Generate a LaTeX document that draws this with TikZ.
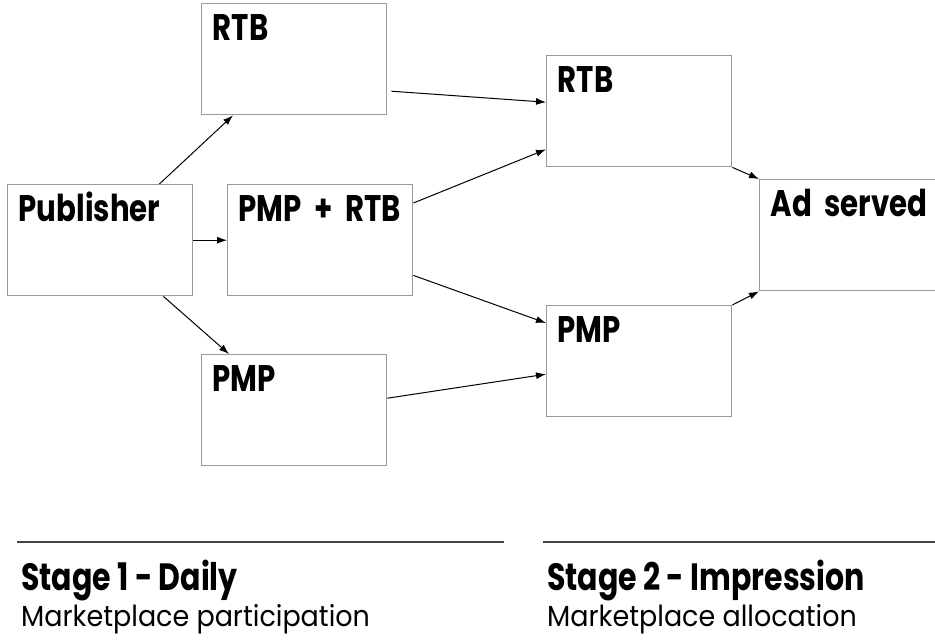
\documentclass[tikz,border=0pt]{standalone}
\usepackage{fontspec}
\setmainfont{Poppins}
\newfontfamily\labelfont[FakeStretch=0.79]{Poppins}
\newfontfamily\notefont[FakeStretch=0.93]{Poppins}
\usepackage{tikz}
\usetikzlibrary{arrows.meta,positioning,calc}
\definecolor{boxGray}{HTML}{9A9A9A}
\definecolor{ruleGray}{HTML}{444444}
\definecolor{inkBlack}{HTML}{000000}

\begin{document}
\begin{tikzpicture}[x=1pt,y=-1pt,>=Latex,
  market/.style={draw=boxGray,line width=1.4pt,anchor=north west,inner xsep=11pt,inner ysep=0pt,
    text width=163pt,align=left,text height=37pt,text depth=74pt,
    font=\labelfont\bfseries\fontsize{37}{40}\selectfont,text=inkBlack},
  flow/.style={-{Latex[length=10pt,width=7pt]},line width=1pt,draw=inkBlack},
  stage/.style={anchor=base west,inner sep=0pt,font=\labelfont\bfseries\fontsize{38}{40}\selectfont},
  note/.style={anchor=base west,inner sep=0pt,font=\notefont\fontsize{29}{32}\selectfont}
]
  \useasboundingbox (0,0) rectangle (935,642);
  \clip (0,0) rectangle (935,642);

  % stage 1
  \node[market] (pub) at (7,184) {Publisher};
  \node[market] (rtbA) at (201,3) {RTB};
  \node[market] (both) at (227,184) {PMP~+~RTB};
  \node[market] (pmpA) at (201,354) {PMP};

  % stage 2
  \node[market] (rtbB) at (546,55) {RTB};
  \node[market] (pmpB) at (546,305) {PMP};
  \node[market] (ad) at (759,179) {Ad served};

  \draw[flow] ([xshift=-34pt]pub.north east) -- ([xshift=32pt]rtbA.south west);
  \draw[flow] (pub.east) -- (both.west);
  \draw[flow] ([xshift=-30pt]pub.south east) -- ([xshift=28pt]pmpA.north west);
  \draw[flow] ([xshift=4pt,yshift=-32pt]rtbA.east) -- ([yshift=9pt]rtbB.west);
  \draw[flow] ([yshift=-19pt]both.north east) -- ([yshift=18pt]rtbB.south west);
  \draw[flow] ([yshift=21pt]both.south east) -- ([yshift=-18pt]pmpB.north west);
  \draw[flow] ([yshift=12pt]pmpA.east) -- ([yshift=-13pt]pmpB.west);
  \draw[flow] (rtbB.south east) -- (ad.north west);
  \draw[flow] (pmpB.north east) -- (ad.south west);

  % bottom legend
  \coordinate (ruleA) at (17,542);
  \coordinate (ruleB) at (543,542);
  \draw[draw=ruleGray,line width=1.5pt] (ruleA) -- (504,542);
  \draw[draw=ruleGray,line width=1.5pt] (ruleB) -- (935,542);
  \node[stage] (stageA) at (21,590) {Stage 1 - Daily};
  \node[note] (noteA) at (21,626) {Marketplace participation};
  \node[stage] (stageB) at (547,590) {Stage 2 - Impression};
  \node[note] (noteB) at (547,626) {Marketplace allocation};
\end{tikzpicture}
\end{document}
